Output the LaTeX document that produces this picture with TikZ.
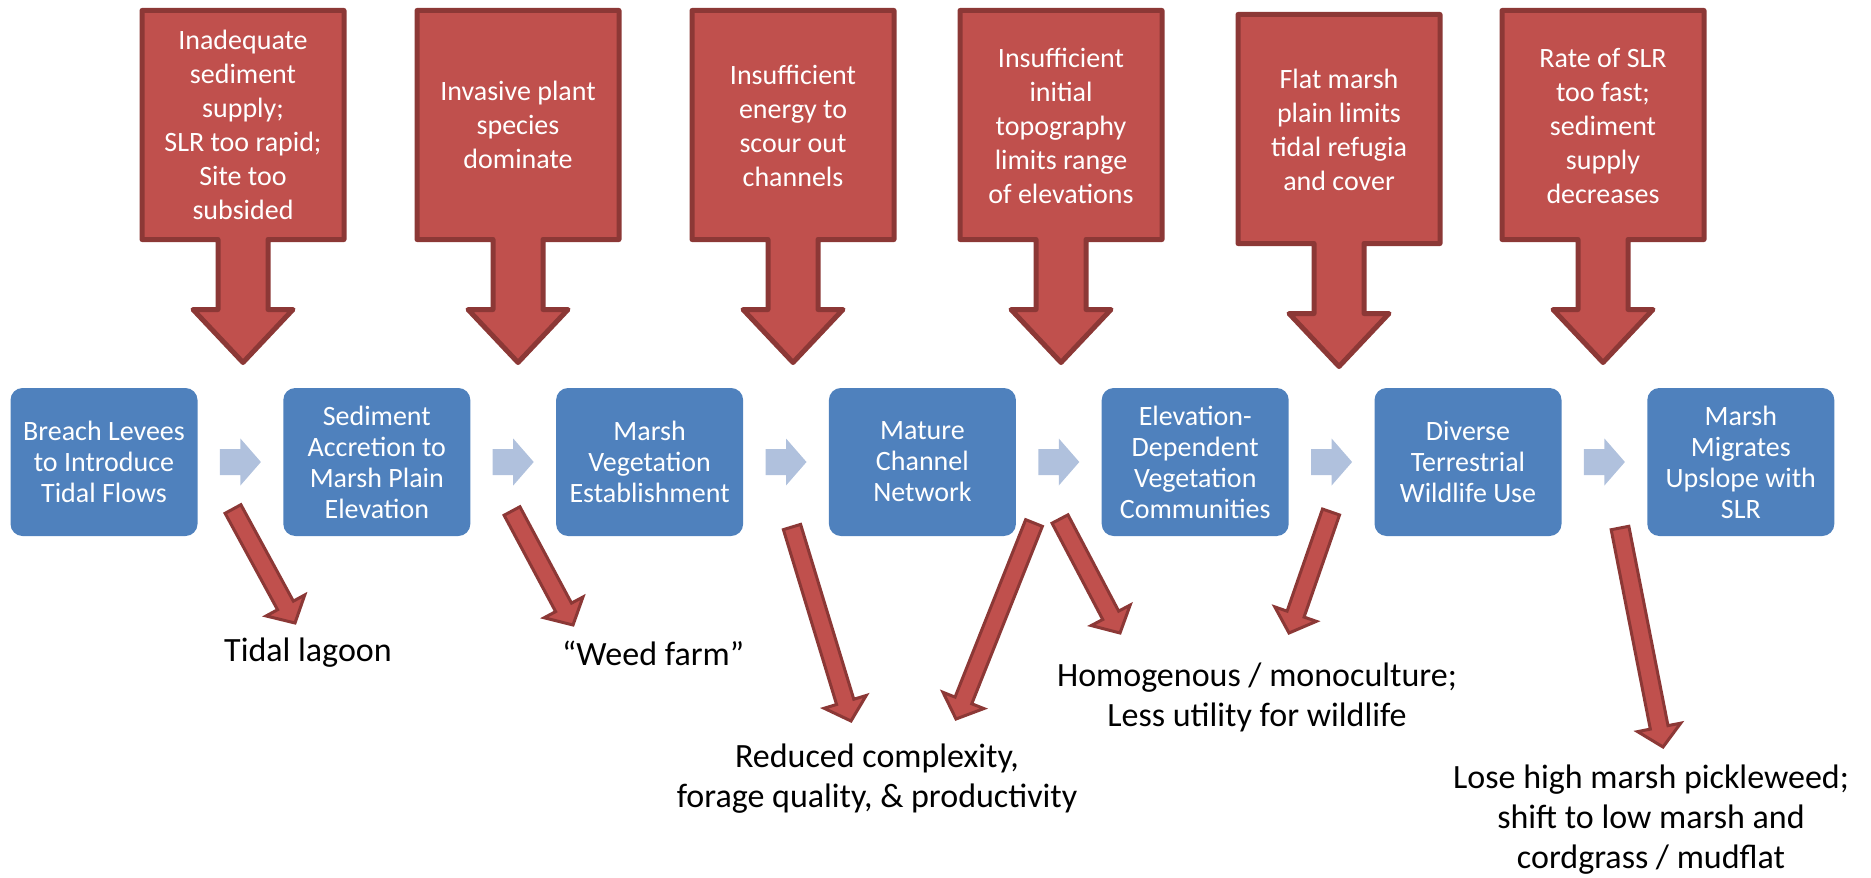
\documentclass[tikz,border=0pt]{standalone}
\usepackage{fontspec}
\setmainfont{Carlito}
\usepackage{tikz}
\usetikzlibrary{calc, positioning}
\definecolor{stageblue}{HTML}{4F81BD}
\definecolor{flowgrey}{HTML}{B0C1DD}
\definecolor{causered}{HTML}{C0504D}
\definecolor{causedark}{HTML}{8C3836}
\tikzstyle{stage}=[rectangle, rounded corners=6pt, fill=stageblue, text=white, minimum width=93.5pt, minimum height=74pt, align=center, inner sep=2pt, font=\fontsize{14}{15.5}\selectfont]
\tikzstyle{cause}=[text=white, align=center, font=\fontsize{14}{17}\selectfont]
\tikzstyle{effect}=[text=black, align=center, font=\fontsize{17}{20}\selectfont]
\tikzstyle{causeshape}=[fill=causered, draw=causedark, line width=2.5pt, line join=round]
\tikzstyle{lossline}=[fill=causered, draw=causedark, line width=1.5pt, line join=miter]
\tikzstyle{flow}=[fill=flowgrey]

% light arrow between two stages
\newcommand{\flowarrow}[2]{%
  \fill[flow, shift={($(#1.east)!0.5!(#2.west)$)}] (-20.5,-13) -- (0,-13) -- (0,-23.5)
    -- (20.5,0) -- (0,23.5) -- (0,13) -- (-20.5,13) -- cycle;}
% big down arrow callout, centre x and vertical offset
\newcommand{\causearrow}[2]{%
  \draw[causeshape, shift={(#1,#2)}] (-101,10.5) -- (101,10.5) -- (101,239.5) -- (25,239.5)
    -- (25,309.5) -- (50,309.5) -- (0,362.5) -- (-50,309.5) -- (-25,309.5) -- (-25,239.5)
    -- (-101,239.5) -- cycle;}
% thin block arrow from #1 to #2
\newcommand{\lossarrow}[2]{%
  \coordinate (hb) at ($(#2)!10pt!(#1)$);
  \draw[lossline] ($(#1)!4.5pt!90:(#2)$) -- ($(hb)!4.5pt!90:(#2)$) -- ($(hb)!11pt!90:(#2)$)
    -- (#2) -- ($(hb)!11pt!-90:(#2)$) -- ($(hb)!4.5pt!-90:(#2)$) -- ($(#1)!4.5pt!-90:(#2)$) -- cycle;}

\begin{document}
\begin{tikzpicture}[x=0.5pt, y=-0.5pt, node distance=42.5pt]
  \useasboundingbox (0,0) rectangle (1871,877);

  % causes
  \causearrow{243}{0}
  \causearrow{518}{0}
  \causearrow{793}{0}
  \causearrow{1061}{0}
  \causearrow{1339}{4}
  \causearrow{1603}{0}
  \node[cause] (c1) at (243,125) {Inadequate\\sediment\\supply;\\SLR too rapid;\\Site too\\subsided};
  \node[cause] (c2) at (518,125) {Invasive plant\\species\\dominate};
  \node[cause] (c3) at (793,126) {Insufficient\\energy to\\scour out\\channels};
  \node[cause] (c4) at (1061,126) {Insufficient\\initial\\topography\\limits range\\of elevations};
  \node[cause] (c5) at (1339,130) {Flat marsh\\plain limits\\tidal refugia\\and cover};
  \node[cause] (c6) at (1603,126) {Rate of SLR\\too fast;\\sediment\\supply\\decreases};

  % stages
  \node[stage] (s1) at (104,462) {Breach Levees\\to Introduce\\Tidal Flows};
  \node[stage] (s2) [right=of s1] {Sediment\\Accretion to\\Marsh Plain\\Elevation};
  \node[stage] (s3) [right=of s2] {Marsh\\Vegetation\\Establishment};
  \node[stage] (s4) [right=of s3] {Mature\\Channel\\Network};
  \node[stage] (s5) [right=of s4] {Elevation-\\Dependent\\Vegetation\\Communities};
  \node[stage] (s6) [right=of s5] {Diverse\\Terrestrial\\Wildlife Use};
  \node[stage] (s7) [right=of s6] {Marsh\\Migrates\\Upslope with\\SLR};
  \flowarrow{s1}{s2}
  \flowarrow{s2}{s3}
  \flowarrow{s3}{s4}
  \flowarrow{s4}{s5}
  \flowarrow{s5}{s6}
  \flowarrow{s6}{s7}

  % outcomes
  \node[effect] (lagoon) at (308,653) {Tidal lagoon};
  \node[effect] (weeds) at (653,653) {“Weed farm”};
  \node[effect] (complexity) at (877,779) {Reduced complexity,\\forage quality, \& productivity};
  \node[effect] (monoculture) at (1257,697) {Homogenous / monoculture;\\Less utility for wildlife};
  \node[effect] (pickleweed) at (1651,820) {Lose high marsh pickleweed;\\shift to low marsh and\\cordgrass / mudflat};

  \coordinate (l1a) at (233,509);  \coordinate (l1b) at (295,623);
  \coordinate (l2a) at (512,511);  \coordinate (l2b) at (573,625);
  \coordinate (l3a) at (792,527);  \coordinate (l3b) at (851,721);
  \coordinate (l4a) at (1034,523); \coordinate (l4b) at (956,719);
  \coordinate (l5a) at (1060,519); \coordinate (l5b) at (1120,633);
  \coordinate (l6a) at (1331,512); \coordinate (l6b) at (1289,633);
  \coordinate (l7a) at (1620,528); \coordinate (l7b) at (1663,747);
  \lossarrow{l1a}{l1b}
  \lossarrow{l2a}{l2b}
  \lossarrow{l3a}{l3b}
  \lossarrow{l4a}{l4b}
  \lossarrow{l5a}{l5b}
  \lossarrow{l6a}{l6b}
  \lossarrow{l7a}{l7b}
\end{tikzpicture}
\end{document}
